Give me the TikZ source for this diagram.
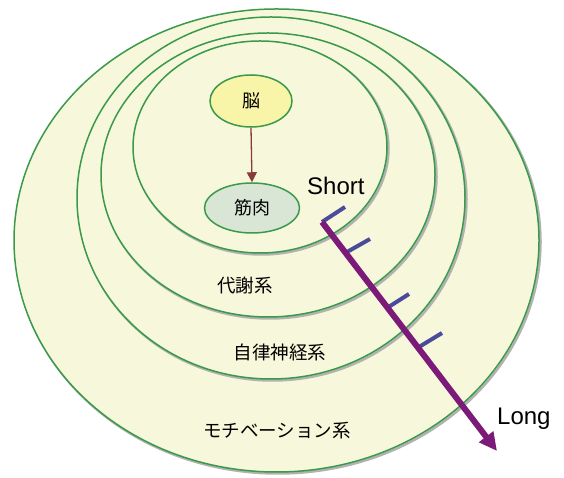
\documentclass[tikz,border=0pt]{standalone}
\usepackage{fontspec}
\newfontfamily\jpfont{Noto Sans CJK JP}
\newfontfamily\lsans{Liberation Sans}
\usetikzlibrary{shapes.geometric,arrows.meta}
\definecolor{bgfill}{HTML}{F7F7DB}
\definecolor{ringgreen}{HTML}{3A9A4A}
\definecolor{brainfill}{HTML}{F9F5A8}
\definecolor{musclefill}{HTML}{D9E6D6}
\definecolor{arrowred}{HTML}{8B3A3A}
\definecolor{axispurple}{HTML}{7B1A78}
\definecolor{tickblue}{HTML}{4B4B9B}
\tikzset{
  ring/.style={ellipse, draw=ringgreen, fill=bgfill, line width=1.5pt, inner sep=0pt},
  ringshadow/.style={ellipse, draw=gray!60, line width=2.5pt, inner sep=0pt},
  organ/.style={ellipse, draw=ringgreen, line width=1.5pt, inner sep=0pt, font=\jpfont\fontsize{18}{20}\selectfont},
  layerlabel/.style={font=\jpfont\fontsize{18.5}{20}\selectfont, inner sep=0pt},
  endlabel/.style={font=\lsans\fontsize{24}{28}\selectfont, inner sep=0pt},
  tickmark/.style={draw=tickblue, line width=4pt},
}
\begin{document}
\begin{tikzpicture}[x=1pt,y=1pt]
\useasboundingbox (0,0) rectangle (564,478);
% outer ring
\node[ringshadow, minimum width=525pt, minimum height=463pt] (s4) at (278,236) {};
\node[ring, minimum width=525pt, minimum height=463pt] (r4) at (276.5,237.5) {};
% second ring
\node[ringshadow, minimum width=388pt, minimum height=362pt] (s3) at (272.5,278.5) {};
\node[ring, minimum width=388pt, minimum height=362pt] (r3) at (271,280) {};
% third ring
\node[ringshadow, minimum width=334pt, minimum height=284pt] (s2) at (269.5,301.5) {};
\node[ring, minimum width=334pt, minimum height=284pt] (r2) at (268,303) {};
% inner ring
\node[ringshadow, minimum width=254pt, minimum height=212pt] (s1) at (261.5,329.5) {};
\node[ring, minimum width=254pt, minimum height=212pt] (r1) at (260,331) {};
% organs
\node[organ, fill=brainfill, minimum width=82pt, minimum height=52pt] (brain) at (251,377) {脳};
\node[organ, fill=musclefill, minimum width=95pt, minimum height=50pt] (muscle) at (252,270) {筋肉};
\draw[arrowred, line width=1.3pt, -{Triangle[length=10pt,width=10pt]}] (brain.south) -- (muscle.north);
% layer labels
\node[layerlabel] (lab2) at (245,193) {代謝系};
\node[layerlabel] (lab3) at (280,126) {自律神経系};
\node[layerlabel] (lab4) at (277,47) {モチベーション系};
% time axis
\coordinate (ax0) at (322,256);
\coordinate (ax1) at (497,27);
\coordinate (t1a) at (322,256);
\coordinate (t1b) at (345,271);
\coordinate (t2a) at (347,226);
\coordinate (t2b) at (370,239);
\coordinate (t3a) at (387,170);
\coordinate (t3b) at (409,184);
\coordinate (t4a) at (419,131);
\coordinate (t4b) at (442,145);
\draw[tickmark] (t1a) -- (t1b);
\draw[tickmark] (t2a) -- (t2b);
\draw[tickmark] (t3a) -- (t3b);
\draw[tickmark] (t4a) -- (t4b);
\draw[axispurple, line width=6pt, -{Triangle[length=18pt,width=17pt]}] (ax0) -- (ax1);
\node[endlabel, anchor=base west] (short) at (307,283) {Short};
\node[endlabel, anchor=base west] (long) at (497,53) {Long};
\end{tikzpicture}
\end{document}
